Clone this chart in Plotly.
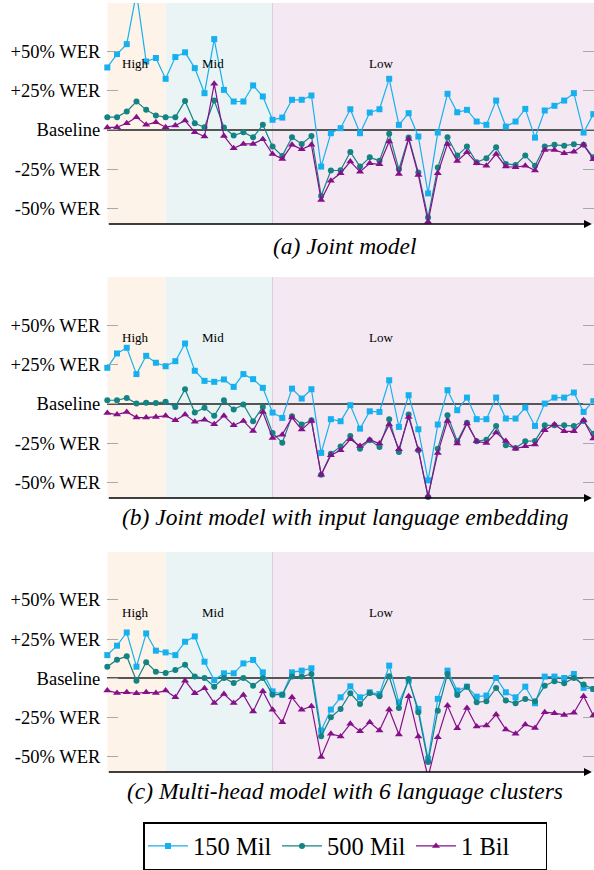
import plotly.graph_objects as go

idx = list(range(51))

# Panel (a) Joint model
a_150 = [39.6, 48.1, 54.4, 87.0, 43.4, 45.6, 32.4, 46.2, 49.2, 39.2, 23.3, 57.6, 25.4, 18.0, 18.0, 28.2, 21.2,
         6.4, 7.8, 19.1, 19.1, 21.8, -23.3, -2.1, 1.1, 13.1, -2.1, 11.0, 13.1, 32.4, 3.2, 10.6, -4.2, -40.3,
         -1.7, 22.9, 11.2, 12.7, 5.3, 3.2, 18.6, 2.1, 5.3, 13.3, -4.9, 12.3, 15.3, 18.6, 23.3, -1.7, 10.0]
a_500 = [8.1, 8.1, 11.7, 18.0, 12.7, 9.1, 8.1, 8.1, 18.4, 4.2, 1.7, 18.6, 1.5, -3.6, -1.5, -4.7, 3.2,
         -10.6, -16.5, -4.7, -8.9, -3.8, -41.9, -25.8, -25.6, -14.0, -23.3, -17.4, -19.5, -2.5, -25.0, -4.9,
         -27.1, -55.5, -23.9, -4.7, -16.3, -10.6, -20.6, -18.0, -11.0, -21.6, -22.2, -16.3, -22.7, -10.6,
         -9.5, -10.0, -9.1, -9.5, -17.4]
a_1b = [1.5, 1.7, 4.2, 8.1, 3.2, 4.9, 1.7, 2.8, 5.9, -1.5, -4.2, 29.2, -3.8, -11.7, -8.9, -8.9, -5.9,
        -15.3, -18.4, -9.5, -12.3, -9.5, -44.5, -32.2, -27.5, -20.1, -26.5, -21.2, -21.8, -7.4, -28.0, -5.7,
        -28.6, -58.3, -27.5, -8.9, -19.7, -14.2, -21.2, -22.7, -15.3, -23.3, -23.7, -22.7, -25.8, -12.7,
        -12.7, -14.8, -13.8, -9.5, -18.6]

# Panel (b) Joint model with input language embedding
b_150 = [22.9, 32.0, 35.6, 18.9, 30.5, 26.1, 23.9, 27.1, 38.3, 21.0, 14.6, 14.0, 15.5, 10.8, 18.9, 15.7, 10.2,
         -5.5, -8.9, 9.7, 3.4, 9.3, -31.1, -9.7, -11.0, -0.8, -15.7, -4.7, -5.1, 15.0, -14.6, 5.5, -16.1,
         -48.5, -13.1, 8.7, -4.0, 4.0, -9.7, -9.7, 4.0, -9.3, -9.3, -2.3, -14.0, 0.2, 4.0, 4.0, 7.2, -5.1, 1.7]
b_500 = [2.3, 2.3, 3.8, 0.2, 0.8, 0.6, 1.3, -1.9, 9.3, -5.5, -2.5, -7.6, 2.3, -3.6, -0.4, -11.0, -1.9,
         -18.4, -24.6, -7.8, -13.1, -10.4, -44.9, -31.6, -27.1, -20.3, -28.4, -23.1, -27.3, -9.7, -30.5, -6.8,
         -29.4, -59.1, -28.4, -7.2, -23.7, -11.9, -23.7, -22.7, -14.0, -26.3, -28.0, -23.7, -23.5, -13.6,
         -13.6, -13.6, -14.0, -10.8, -18.9]
b_1b = [-5.7, -6.8, -5.1, -8.7, -8.7, -8.3, -7.6, -10.4, -6.8, -11.4, -10.0, -12.9, -7.6, -13.6, -10.8, -17.2,
        -5.1, -21.6, -19.5, -8.7, -16.3, -10.8, -44.9, -32.6, -29.4, -22.5, -26.7, -22.7, -25.2, -13.1, -28.8,
        -8.3, -29.0, -58.5, -31.1, -10.8, -25.2, -12.5, -23.7, -24.8, -18.2, -23.5, -28.4, -26.9, -25.8, -16.7,
        -13.1, -17.4, -17.4, -10.4, -22.0]

# Panel (c) Multi-head model with 6 language clusters
c_150 = [14.8, 20.8, 29.2, 7.4, 28.6, 17.6, 16.5, 14.8, 23.3, 26.7, 10.6, -1.1, 3.2, 3.2, 9.5, 11.7, 3.8,
         -8.3, -10.4, 3.8, 4.9, 6.4, -33.3, -19.9, -12.1, -5.1, -12.1, -8.9, -10.0, 8.1, -15.3, -1.5, -19.5,
         -51.3, -13.1, 4.9, -7.8, -5.3, -11.7, -11.0, 0.2, -8.9, -12.1, -5.3, -15.9, 1.1, 1.1, 0.2, 2.8, -6.1, -6.8]
c_500 = [7.4, 11.9, 14.0, -1.5, 10.2, 4.2, 3.4, 5.3, 8.7, 1.1, 0.2, -5.3, 0.2, -3.0, 0.2, -4.7, 0.2,
         -10.4, -10.4, 1.1, 1.1, 2.8, -36.9, -24.8, -19.5, -9.5, -16.3, -9.3, -11.4, 1.3, -18.9, -0.4, -21.6,
         -53.4, -20.6, 2.8, -10.6, -5.3, -15.3, -14.6, -6.1, -14.2, -15.9, -13.1, -14.6, -4.7, -1.9, -3.2, 0.2,
         -4.0, -6.8]
c_1b = [-7.8, -9.3, -8.9, -9.5, -8.9, -9.3, -7.8, -12.1, -1.5, -9.5, -6.4, -15.7, -10.0, -15.7, -10.6, -21.2,
        -8.3, -20.1, -28.0, -12.1, -20.1, -17.8, -50.2, -35.4, -37.0, -29.0, -33.7, -28.0, -33.3, -19.9, -35.8,
        -11.4, -37.1, -63.0, -37.5, -17.4, -31.8, -18.9, -30.7, -30.1, -23.1, -32.6, -35.4, -29.4, -31.6, -21.6,
        -22.2, -23.3, -22.0, -11.4, -23.7]

series_names = ["150 Mil", "500 Mil", "1 Bil"]
series_colors = ["#17b0ee", "#148383", "#86108a"]
series_symbols = ["square", "circle", "triangle-up"]
panels = [(a_150, a_500, a_1b), (b_150, b_500, b_1b), (c_150, c_500, c_1b)]
captions = ["(a) Joint model", "(b) Joint model with input language embedding",
            "(c) Multi-head model with 6 language clusters"]

tick_vals = [50, 25, 0, -25, -50]
tick_text = ["+50% WER", "+25% WER", "Baseline", "-25% WER", "-50% WER"]

region_names = ["High", "Mid", "Low"]
region_bounds = [0, 6, 17, 50.07]
region_colors = ["#fdf3e8", "#eaf4f4", "#f4e8f3"]
region_label_x = [2.85, 10.9, 28.2]
region_label_y = 42

W, H = 594, 870
def py(px):
    return 1 - px / H

panel_px = [(3, 224), (277, 498), (552, 772)]
caption_px = [246, 517, 791]
x_left = 107.3 / W

fig = go.Figure()
layout = dict(width=W, height=H, margin=dict(l=0, r=0, t=0, b=0),
              paper_bgcolor="white", plot_bgcolor="rgba(0,0,0,0)",
              font=dict(family="Liberation Serif", color="black"),
              showlegend=True)
shapes = []
annotations = []

for p, (vals, (top, bot)) in enumerate(zip(panels, panel_px)):
    n = "" if p == 0 else str(p + 1)
    xa, ya = "x" + n, "y" + n
    for k in range(3):
        fig.add_trace(go.Scatter(
            x=idx, y=vals[k], xaxis=xa, yaxis=ya, mode="lines+markers",
            name=series_names[k], showlegend=(p == 0), legendgroup=series_names[k],
            line=dict(color=series_colors[k], width=1.2),
            marker=dict(symbol=series_symbols[k], size=6 if k != 2 else 7, color=series_colors[k]),
            cliponaxis=False))
    layout["xaxis" + n] = dict(domain=[x_left, 1], range=[0, 50.07], anchor=ya,
                               showgrid=False, zeroline=False, showticklabels=False,
                               ticks="", showline=False)
    layout["yaxis" + n] = dict(domain=[py(bot), py(top)], range=[-59.7, 80.5], anchor=xa,
                               showgrid=False, zeroline=True, zerolinecolor="#555555",
                               zerolinewidth=1.5, showline=False,
                               tickvals=tick_vals, ticktext=tick_text, ticks="inside",
                               ticklen=11, tickcolor="#a8a8a8", tickwidth=1.2, mirror="ticks",
                               tickfont=dict(size=18.5, family="Liberation Serif", color="black"),
                               ticklabelstandoff=6)
    for r in range(3):
        shapes.append(dict(type="rect", xref=xa, yref=ya + " domain",
                           x0=region_bounds[r], x1=region_bounds[r + 1], y0=0, y1=1,
                           fillcolor=region_colors[r], line=dict(width=0), layer="below"))
        annotations.append(dict(xref=xa, yref=ya, x=region_label_x[r], y=region_label_y,
                                text=region_names[r], showarrow=False,
                                font=dict(size=13, family="Liberation Serif", color="black")))
    shapes.append(dict(type="line", xref=xa, yref=ya + " domain", x0=17, x1=17, y0=0, y1=1,
                       line=dict(color="#d9cde0", width=1), layer="below"))
    # x axis line with arrow
    annotations.append(dict(xref=xa + " domain", yref=ya + " domain", x=0.9955, y=0,
                            axref=xa + " domain", ayref=ya + " domain", ax=0, ay=0,
                            text="", showarrow=True, arrowhead=2, arrowsize=1.2,
                            arrowwidth=1.3, arrowcolor="black", standoff=0, startstandoff=0))
    annotations.append(dict(xref="paper", yref="paper", x=345 / W, y=py(caption_px[p]),
                            text="<i>" + captions[p] + "</i>", showarrow=False,
                            xanchor="center", yanchor="middle",
                            font=dict(size=23.5, family="Liberation Serif", color="black")))

layout["shapes"] = shapes
layout["annotations"] = annotations
layout["legend"] = dict(orientation="h", x=345 / W, xanchor="center", y=py(822), yanchor="top",
                        bordercolor="black", borderwidth=1.5, bgcolor="white",
                        font=dict(size=24.5, family="Liberation Serif", color="black"),
                        itemwidth=40, tracegroupgap=0, entrywidth=79, entrywidthmode="pixels")
fig.update_layout(**layout)
fig.write_html("out.html", config={"displayModeBar": False},
               post_script="document.body.style.margin='0';document.body.style.overflow='hidden';")
